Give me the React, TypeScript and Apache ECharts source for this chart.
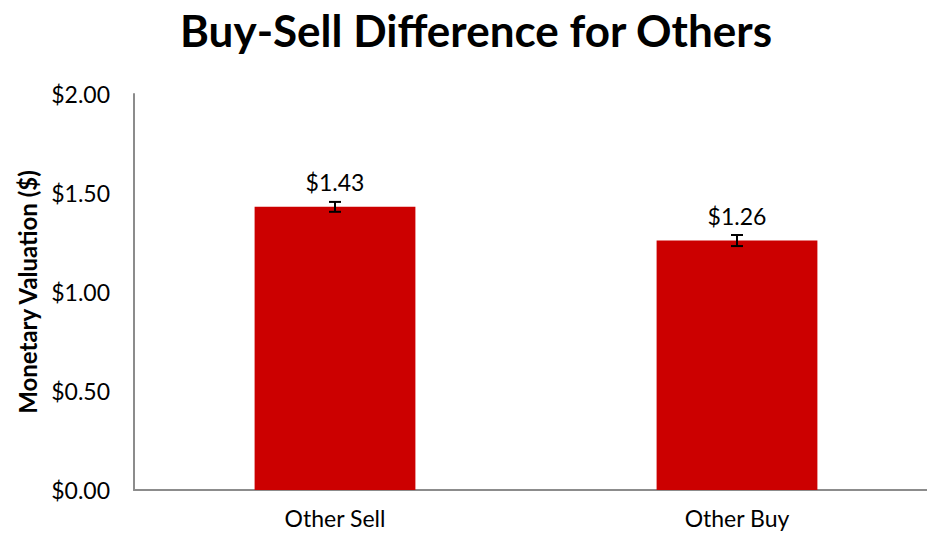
import React, { useEffect, useRef } from "react";
import * as echarts from "echarts";

const categories = ["Other Sell", "Other Buy"];
const values = [1.43, 1.26];
const errors = [0.025, 0.028];
const yTicks = [0, 0.5, 1.0, 1.5, 2.0];

const FONT = "Lato, 'Liberation Sans', sans-serif";

export default function App() {
  const ref = useRef<HTMLDivElement>(null);
  useEffect(() => {
    if (!ref.current) return;
    const chart = echarts.init(ref.current, null, { renderer: "svg" });
    chart.setOption({
      animation: false,
      title: {
        text: "Buy-Sell Difference for Others",
        left: 471,
        textAlign: "center",
        top: 3,
        textStyle: { fontFamily: FONT, fontWeight: "bold", fontSize: 44, color: "#000" },
      },
      grid: {
        left: 134,
        width: 804,
        top: 94,
        bottom: 51,
        containLabel: false,
        outerBoundsMode: "none",
      },
      xAxis: {
        type: "category",
        data: categories,
        axisLine: { lineStyle: { color: "#8c8c8c", width: 2 } },
        axisTick: { show: false },
        axisLabel: { fontFamily: FONT, fontSize: 23, color: "#000", margin: 16 },
      },
      yAxis: {
        type: "value",
        min: yTicks[0],
        max: yTicks[yTicks.length - 1],
        interval: 0.5,
        name: "Monetary Valuation ($)",
        nameLocation: "middle",
        nameGap: 95,
        nameRotate: 90,
        nameTextStyle: { fontFamily: FONT, fontWeight: "bold", fontSize: 24, color: "#000" },
        splitLine: { show: false },
        axisLine: { show: true, lineStyle: { color: "#8c8c8c", width: 2 } },
        axisTick: { show: false },
        axisLabel: {
          fontFamily: FONT,
          fontSize: 23,
          color: "#000",
          margin: 24,
          formatter: (v: number) => "$" + v.toFixed(2),
        },
      },
      series: [
        {
          type: "bar",
          data: values,
          barWidth: "40%",
          itemStyle: { color: "#cc0000" },
          label: {
            show: true,
            position: "top",
            distance: 13,
            fontFamily: FONT,
            fontSize: 23,
            color: "#000",
            formatter: (p: any) => "$" + p.value.toFixed(2),
          },
        },
        {
          type: "custom",
          data: values.map((v, i) => [i, v - errors[i], v + errors[i]]),
          z: 10,
          renderItem: (params: any, api: any) => {
            const x = api.value(0);
            const lo = api.coord([x, api.value(1)]);
            const hi = api.coord([x, api.value(2)]);
            const hw = 6;
            const style = { stroke: "#000", lineWidth: 2 };
            return {
              type: "group",
              children: [
                { type: "line", shape: { x1: lo[0], y1: lo[1], x2: hi[0], y2: hi[1] }, style },
                { type: "line", shape: { x1: lo[0] - hw, y1: lo[1], x2: lo[0] + hw, y2: lo[1] }, style },
                { type: "line", shape: { x1: hi[0] - hw, y1: hi[1], x2: hi[0] + hw, y2: hi[1] }, style },
              ],
            };
          },
        },
      ],
    });
    return () => chart.dispose();
  }, []);
  return <div ref={ref} style={{ width: 927, height: 541, position: "absolute", left: 0, top: 0 }} />;
}
